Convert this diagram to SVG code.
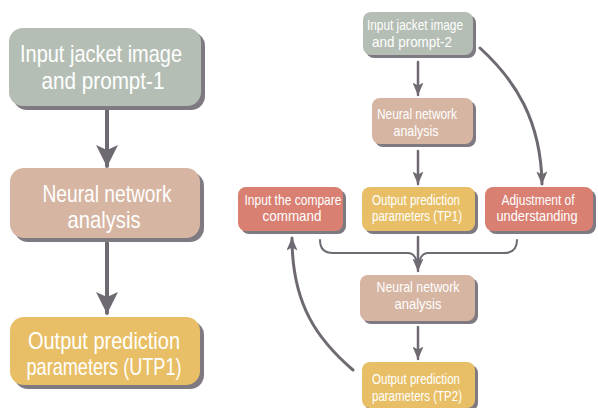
<svg xmlns="http://www.w3.org/2000/svg" width="598" height="408" viewBox="0 0 598 408">
<defs>
<style>
.sh{fill:#7f7a82}
.g{fill:#b5beb4}
.t{fill:#d6b5a2}
.y{fill:#e8bf66}
.s{fill:#d98072}
text{font-family:"Liberation Sans",Arial,sans-serif;fill:#ffffff;text-anchor:middle}
.big{font-size:24px}
.sm{font-size:15px}
.ln{fill:none;stroke:#6f6a72;stroke-linecap:round}
</style>
<marker id="ahL" markerUnits="userSpaceOnUse" markerWidth="22" markerHeight="22" viewBox="0 0 22 22" refX="21" refY="11" orient="auto">
<path d="M0,0 L22,11 L0,22 L5,11 z" fill="#6f6a72"/>
</marker>
<marker id="ahS" markerUnits="userSpaceOnUse" markerWidth="13" markerHeight="11" viewBox="0 0 13 11" refX="12.5" refY="5.5" orient="auto">
<path d="M0,0 L13,5.5 L0,11 L3,5.5 z" fill="#6f6a72"/>
</marker>
</defs>
<rect width="598" height="408" fill="#ffffff"/>

<g id="connectors">
<line class="ln" x1="107" y1="110" x2="107" y2="166" stroke-width="4" marker-end="url(#ahL)"/>
<line class="ln" x1="107" y1="243" x2="107" y2="313" stroke-width="4" marker-end="url(#ahL)"/>
<line class="ln" x1="418" y1="62" x2="418" y2="95" stroke-width="2.5" marker-end="url(#ahS)"/>
<line class="ln" x1="418" y1="151" x2="418" y2="184" stroke-width="2.5" marker-end="url(#ahS)"/>
<path class="ln" d="M480,48 C515,80 541,120 542,184" stroke-width="3" marker-end="url(#ahS)"/>
<path class="ln" d="M320,240 Q320,253 333,253 L408,253 Q416,253 418,267 Q420,253 428,253 L504,253 Q517,253 517,240" stroke-width="2"/>
<line class="ln" x1="418" y1="237" x2="418" y2="271" stroke-width="2.5" marker-end="url(#ahS)"/>
<line class="ln" x1="418" y1="327" x2="418" y2="359" stroke-width="2.5" marker-end="url(#ahS)"/>
<path class="ln" d="M353,370 C318,340 292,305 292,238" stroke-width="3" marker-end="url(#ahS)"/>
</g>

<g id="L1">
<rect class="sh" x="13" y="32" width="192" height="78" rx="14"/>
<rect class="g" x="9" y="28" width="192" height="78" rx="14"/>
<text class="big" x="101" y="62" textLength="162" lengthAdjust="spacingAndGlyphs">Input jacket image</text>
<text class="big" x="103" y="89" textLength="123" lengthAdjust="spacingAndGlyphs">and prompt-1</text>
</g>
<g id="L2">
<rect class="sh" x="14" y="172" width="190" height="70" rx="14"/>
<rect class="t" x="10" y="168" width="190" height="70" rx="14"/>
<text class="big" x="107" y="202" textLength="129" lengthAdjust="spacingAndGlyphs">Neural network</text>
<text class="big" x="104" y="228" textLength="73" lengthAdjust="spacingAndGlyphs">analysis</text>
</g>
<g id="L3">
<rect class="sh" x="14" y="321" width="190" height="68" rx="14"/>
<rect class="y" x="10" y="317" width="190" height="68" rx="14"/>
<text class="big" x="104" y="349" textLength="152" lengthAdjust="spacingAndGlyphs">Output prediction</text>
<text class="big" x="104" y="375" textLength="155" lengthAdjust="spacingAndGlyphs">parameters (UTP1)</text>
</g>

<g id="R1">
<rect class="sh" x="366" y="15" width="110" height="43" rx="8"/>
<rect class="g" x="363" y="12" width="110" height="43" rx="8"/>
<text class="sm" x="415" y="30" textLength="96" lengthAdjust="spacingAndGlyphs">Input jacket image</text>
<text class="sm" x="412" y="47" textLength="80" lengthAdjust="spacingAndGlyphs">and prompt-2</text>
</g>
<g id="R2">
<rect class="sh" x="375" y="101" width="101" height="46" rx="8"/>
<rect class="t" x="372" y="98" width="101" height="46" rx="8"/>
<text class="sm" x="417" y="119" textLength="80" lengthAdjust="spacingAndGlyphs">Neural network</text>
<text class="sm" x="416" y="136" textLength="45" lengthAdjust="spacingAndGlyphs">analysis</text>
</g>
<g id="R3">
<rect class="sh" x="241" y="190" width="105" height="44" rx="8"/>
<rect class="s" x="238" y="187" width="105" height="44" rx="8"/>
<text class="sm" x="293" y="205" textLength="97" lengthAdjust="spacingAndGlyphs">Input the compare</text>
<text class="sm" x="292" y="221" textLength="59" lengthAdjust="spacingAndGlyphs">command</text>
</g>
<g id="R4">
<rect class="sh" x="365" y="190" width="113" height="44" rx="8"/>
<rect class="y" x="362" y="187" width="113" height="44" rx="8"/>
<text class="sm" x="416" y="205" textLength="88" lengthAdjust="spacingAndGlyphs">Output prediction</text>
<text class="sm" x="417" y="221" textLength="90" lengthAdjust="spacingAndGlyphs">parameters (TP1)</text>
</g>
<g id="R5">
<rect class="sh" x="488" y="190" width="108" height="44" rx="8"/>
<rect class="s" x="485" y="187" width="108" height="44" rx="8"/>
<text class="sm" x="538" y="205" textLength="73" lengthAdjust="spacingAndGlyphs">Adjustment of</text>
<text class="sm" x="537" y="221" textLength="81" lengthAdjust="spacingAndGlyphs">understanding</text>
</g>
<g id="R6">
<rect class="sh" x="363" y="278" width="115" height="46" rx="8"/>
<rect class="t" x="360" y="275" width="115" height="46" rx="8"/>
<text class="sm" x="418" y="292" textLength="83" lengthAdjust="spacingAndGlyphs">Neural network</text>
<text class="sm" x="418" y="309" textLength="47" lengthAdjust="spacingAndGlyphs">analysis</text>
</g>
<g id="R7">
<rect class="sh" x="365" y="365" width="113" height="46" rx="8"/>
<rect class="y" x="362" y="362" width="113" height="46" rx="8"/>
<text class="sm" x="416" y="384" textLength="88" lengthAdjust="spacingAndGlyphs">Output prediction</text>
<text class="sm" x="417" y="401" textLength="90" lengthAdjust="spacingAndGlyphs">parameters (TP2)</text>
</g>
</svg>
